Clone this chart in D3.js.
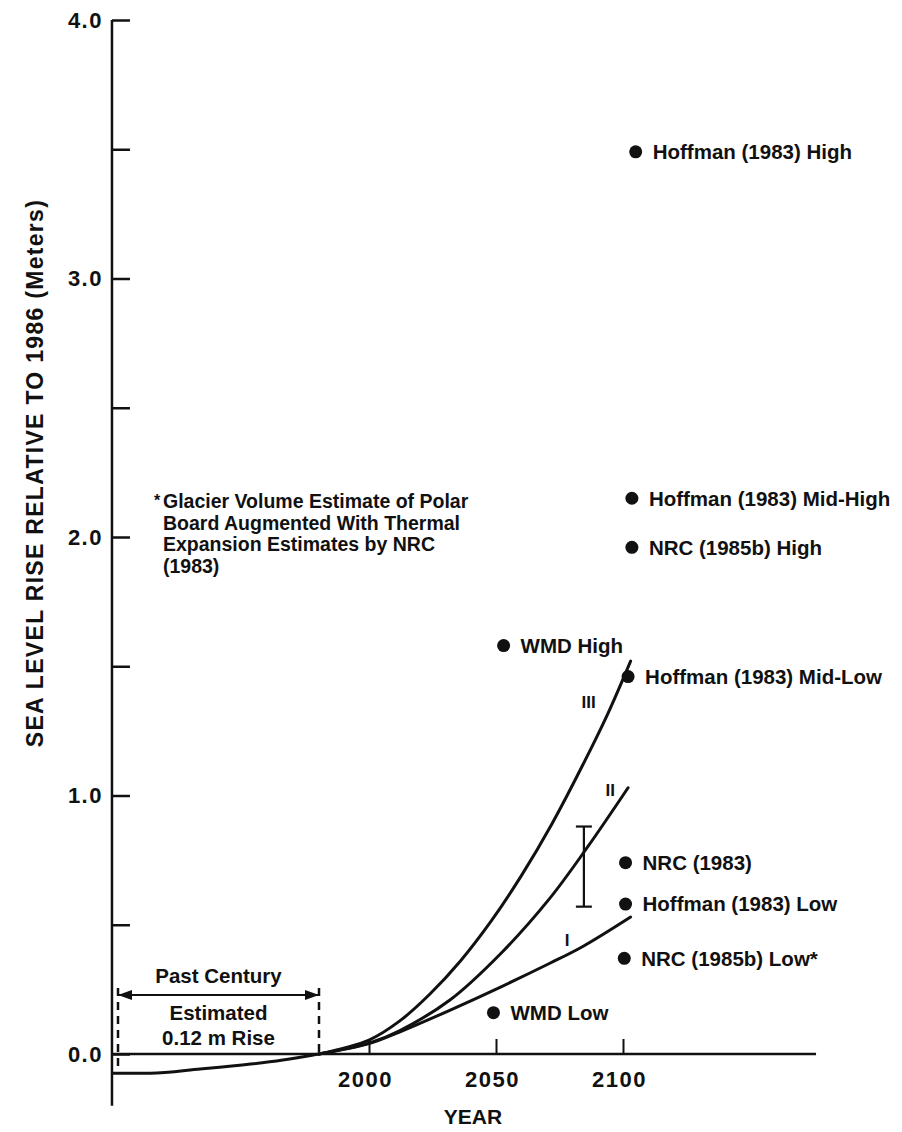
<!DOCTYPE html>
<html>
<head>
<meta charset="utf-8">
<script src="https://cdn.jsdelivr.net/npm/d3@7"></script>
<style>
  body { margin: 0; background: #fff; }
  text { font-family: "Liberation Sans", Arial, Helvetica, sans-serif; font-weight: bold; fill: #111; }
</style>
</head>
<body>
<svg id="chart" width="902" height="1132"></svg>
<script>
// scenario curves I, II, III (year, metres relative to 1986)
const curveI   = [[1986, 0], [2000, 0.04], [2012, 0.085], [2032, 0.17], [2052, 0.26], [2071, 0.35], [2084, 0.415], [2103, 0.53]];
const curveII  = [[1986, 0], [2000, 0.042], [2012, 0.09], [2032, 0.21], [2052, 0.39], [2071, 0.60], [2086, 0.80], [2102, 1.03]];
const curveIII = [[1986, 0], [2000, 0.054], [2012, 0.127], [2024, 0.232], [2036, 0.36], [2048, 0.513], [2060, 0.69],
                  [2072, 0.89], [2084, 1.115], [2094, 1.316], [2103, 1.52]];
const curveNames = ["I", "II", "III"];
const curveLabelAt = [[2078, 0.44], [2095, 1.02], [2086.5, 1.36]];

// past century trend
const pastCurve = [[1883, -0.074], [1902, -0.074], [1927, -0.058], [1952, -0.039], [1968, -0.023], [1983, -0.004], [1986, 0]];
const pastCentury = [1886, 1986];

// published estimates
const estimateNames = ["Hoffman (1983) High", "Hoffman (1983) Mid-High", "NRC (1985b) High", "WMD High",
  "Hoffman (1983) Mid-Low", "NRC (1983)", "Hoffman (1983) Low", "NRC (1985b) Low*", "WMD Low"];
const estimateYears = [2105, 2103.5, 2103.5, 2053, 2102, 2101, 2101, 2100.5, 2049];
const estimateValues = [3.49, 2.15, 1.96, 1.58, 1.46, 0.74, 0.58, 0.37, 0.16];

// range bar
const rangeBar = { year: 2084.6, low: 0.57, high: 0.88 };

const yTicks = [0, 0.5, 1, 1.5, 2, 2.5, 3, 3.5, 4];
const xTicks = [2000, 2050, 2100];

const noteLines = ["Glacier Volume Estimate of Polar", "Board Augmented With Thermal", "Expansion Estimates by NRC", "(1983)"];

const svg = d3.select('#chart');

// the time axis is schematic: past century is drawn compressed
const x = d3.scaleLinear()
  .domain([1886, 1986, 2000, 2100])
  .range([118, 319, 369, 623]);
const y = d3.scaleLinear().domain([0, 4]).range([1054, 20]);

const axisX = x(1883);
const g = svg.append('g');

// y axis
g.append('line')
  .attr('x1', axisX).attr('x2', axisX)
  .attr('y1', y(4)).attr('y2', y(-0.2))
  .attr('stroke', '#111').attr('stroke-width', 2.5);

const yAxis = d3.axisLeft(y)
  .tickValues(yTicks)
  .tickSizeInner(-18).tickSizeOuter(0).tickPadding(9)
  .tickFormat(d => Number.isInteger(d) ? d3.format('.1f')(d) : '');
g.append('g')
  .attr('transform', `translate(${axisX},0)`)
  .call(yAxis)
  .call(s => s.select('.domain').remove())
  .call(s => s.selectAll('line').attr('stroke', '#111').attr('stroke-width', 2.5))
  .call(s => s.selectAll('text').attr('font-size', 22).attr('letter-spacing', 1.5).attr('fill', '#111')
    .style('font-family', '"Liberation Sans", Arial, sans-serif').style('font-weight', 'bold'));

// baseline + x axis
g.append('line')
  .attr('x1', axisX).attr('x2', x(2176))
  .attr('y1', y(0)).attr('y2', y(0))
  .attr('stroke', '#111').attr('stroke-width', 2.5);

const xAxis = d3.axisBottom(x)
  .tickValues(xTicks)
  .tickSizeInner(-15).tickSizeOuter(0).tickPadding(17)
  .tickFormat(d3.format('d'));
g.append('g')
  .attr('transform', `translate(0,${y(0)})`)
  .call(xAxis)
  .call(s => s.select('.domain').remove())
  .call(s => s.selectAll('line').attr('stroke', '#111').attr('stroke-width', 2))
  .call(s => s.selectAll('text').attr('font-size', 22).attr('letter-spacing', 1.5).attr('dx', -4).attr('fill', '#111')
    .style('font-family', '"Liberation Sans", Arial, sans-serif').style('font-weight', 'bold'));

// axis titles
g.append('text')
  .attr('x', 473).attr('y', 1124)
  .attr('text-anchor', 'middle').attr('font-size', 21)
  .text('YEAR');

g.append('text')
  .attr('transform', 'translate(43,473) rotate(-90)')
  .attr('text-anchor', 'middle').attr('font-size', 23).attr('letter-spacing', 1.3)
  .text('SEA LEVEL RISE RELATIVE TO 1986 (Meters)');

// curves
const pastLine = d3.line()
  .x(d => x(d[0]))
  .y(d => y(d[1]))
  .curve(d3.curveMonotoneX);
const line = d3.line()
  .x(d => x(d[0]))
  .y(d => y(d[1]))
  .curve(d3.curveCatmullRom.alpha(0.5));

g.append('path').datum(pastCurve)
  .attr('d', pastLine).attr('fill', 'none')
  .attr('stroke', '#111').attr('stroke-width', 3);

[curveI, curveII, curveIII].forEach(c => {
  g.append('path').datum(c)
    .attr('d', line).attr('fill', 'none')
    .attr('stroke', '#111').attr('stroke-width', 3)
    .attr('stroke-linecap', 'round');
});

g.selectAll('.curve-label').data(curveNames)
  .enter().append('text')
    .attr('class', 'curve-label')
    .attr('x', (d, i) => x(curveLabelAt[i][0]))
    .attr('y', (d, i) => y(curveLabelAt[i][1]))
    .attr('dy', '0.35em')
    .attr('text-anchor', 'middle')
    .attr('font-size', 17)
    .text(d => d);

// range bar
const capW = 8;
g.append('line')
  .attr('x1', x(rangeBar.year)).attr('x2', x(rangeBar.year))
  .attr('y1', y(rangeBar.low)).attr('y2', y(rangeBar.high))
  .attr('stroke', '#111').attr('stroke-width', 2.2);
[rangeBar.low, rangeBar.high].forEach(v => {
  g.append('line')
    .attr('x1', x(rangeBar.year) - capW).attr('x2', x(rangeBar.year) + capW)
    .attr('y1', y(v)).attr('y2', y(v))
    .attr('stroke', '#111').attr('stroke-width', 2.2);
});

// estimate points
const estimates = estimateNames.map((name, i) => ({ name, year: estimateYears[i], value: estimateValues[i] }));
const pts = g.selectAll('.est').data(estimates).enter().append('g').attr('class', 'est');
pts.append('circle')
  .attr('cx', d => x(d.year)).attr('cy', d => y(d.value))
  .attr('r', 6.5).attr('fill', '#111');
pts.append('text')
  .attr('x', d => x(d.year) + 17).attr('y', d => y(d.value))
  .attr('dy', '0.36em').attr('font-size', 20.5)
  .text(d => d.name);

// past century bracket
const pcY = 995;
const xa = x(pastCentury[0]), xb = x(pastCentury[1]);
g.append('line')
  .attr('x1', xa).attr('x2', xa).attr('y1', 988).attr('y2', y(-0.07))
  .attr('stroke', '#111').attr('stroke-width', 2.5).attr('stroke-dasharray', '8,6');
g.append('line')
  .attr('x1', xb).attr('x2', xb).attr('y1', 988).attr('y2', y(0))
  .attr('stroke', '#111').attr('stroke-width', 2.5).attr('stroke-dasharray', '8,6');
g.append('line')
  .attr('x1', xa).attr('x2', xb).attr('y1', pcY).attr('y2', pcY)
  .attr('stroke', '#111').attr('stroke-width', 2.2);
g.append('path')
  .attr('d', `M${xa},${pcY} l14,-5 l0,10 Z M${xb},${pcY} l-14,-5 l0,10 Z`)
  .attr('fill', '#111');

const pcMid = (xa + xb) / 2;
g.append('text').attr('x', pcMid).attr('y', 983)
  .attr('text-anchor', 'middle').attr('font-size', 20.5).text('Past Century');
g.append('text').attr('x', pcMid).attr('y', 1020)
  .attr('text-anchor', 'middle').attr('font-size', 20.5).text('Estimated');
g.append('text').attr('x', pcMid).attr('y', 1045)
  .attr('text-anchor', 'middle').attr('font-size', 20.5).text('0.12 m Rise');

// footnote
g.append('text').attr('x', 154).attr('y', 506).attr('font-size', 16).text('*');
g.selectAll('.note').data(noteLines)
  .enter().append('text')
    .attr('class', 'note')
    .attr('x', 163)
    .attr('y', (d, i) => 508 + i * 21.5)
    .attr('font-size', 19.5)
    .text(d => d);
</script>
</body>
</html>
